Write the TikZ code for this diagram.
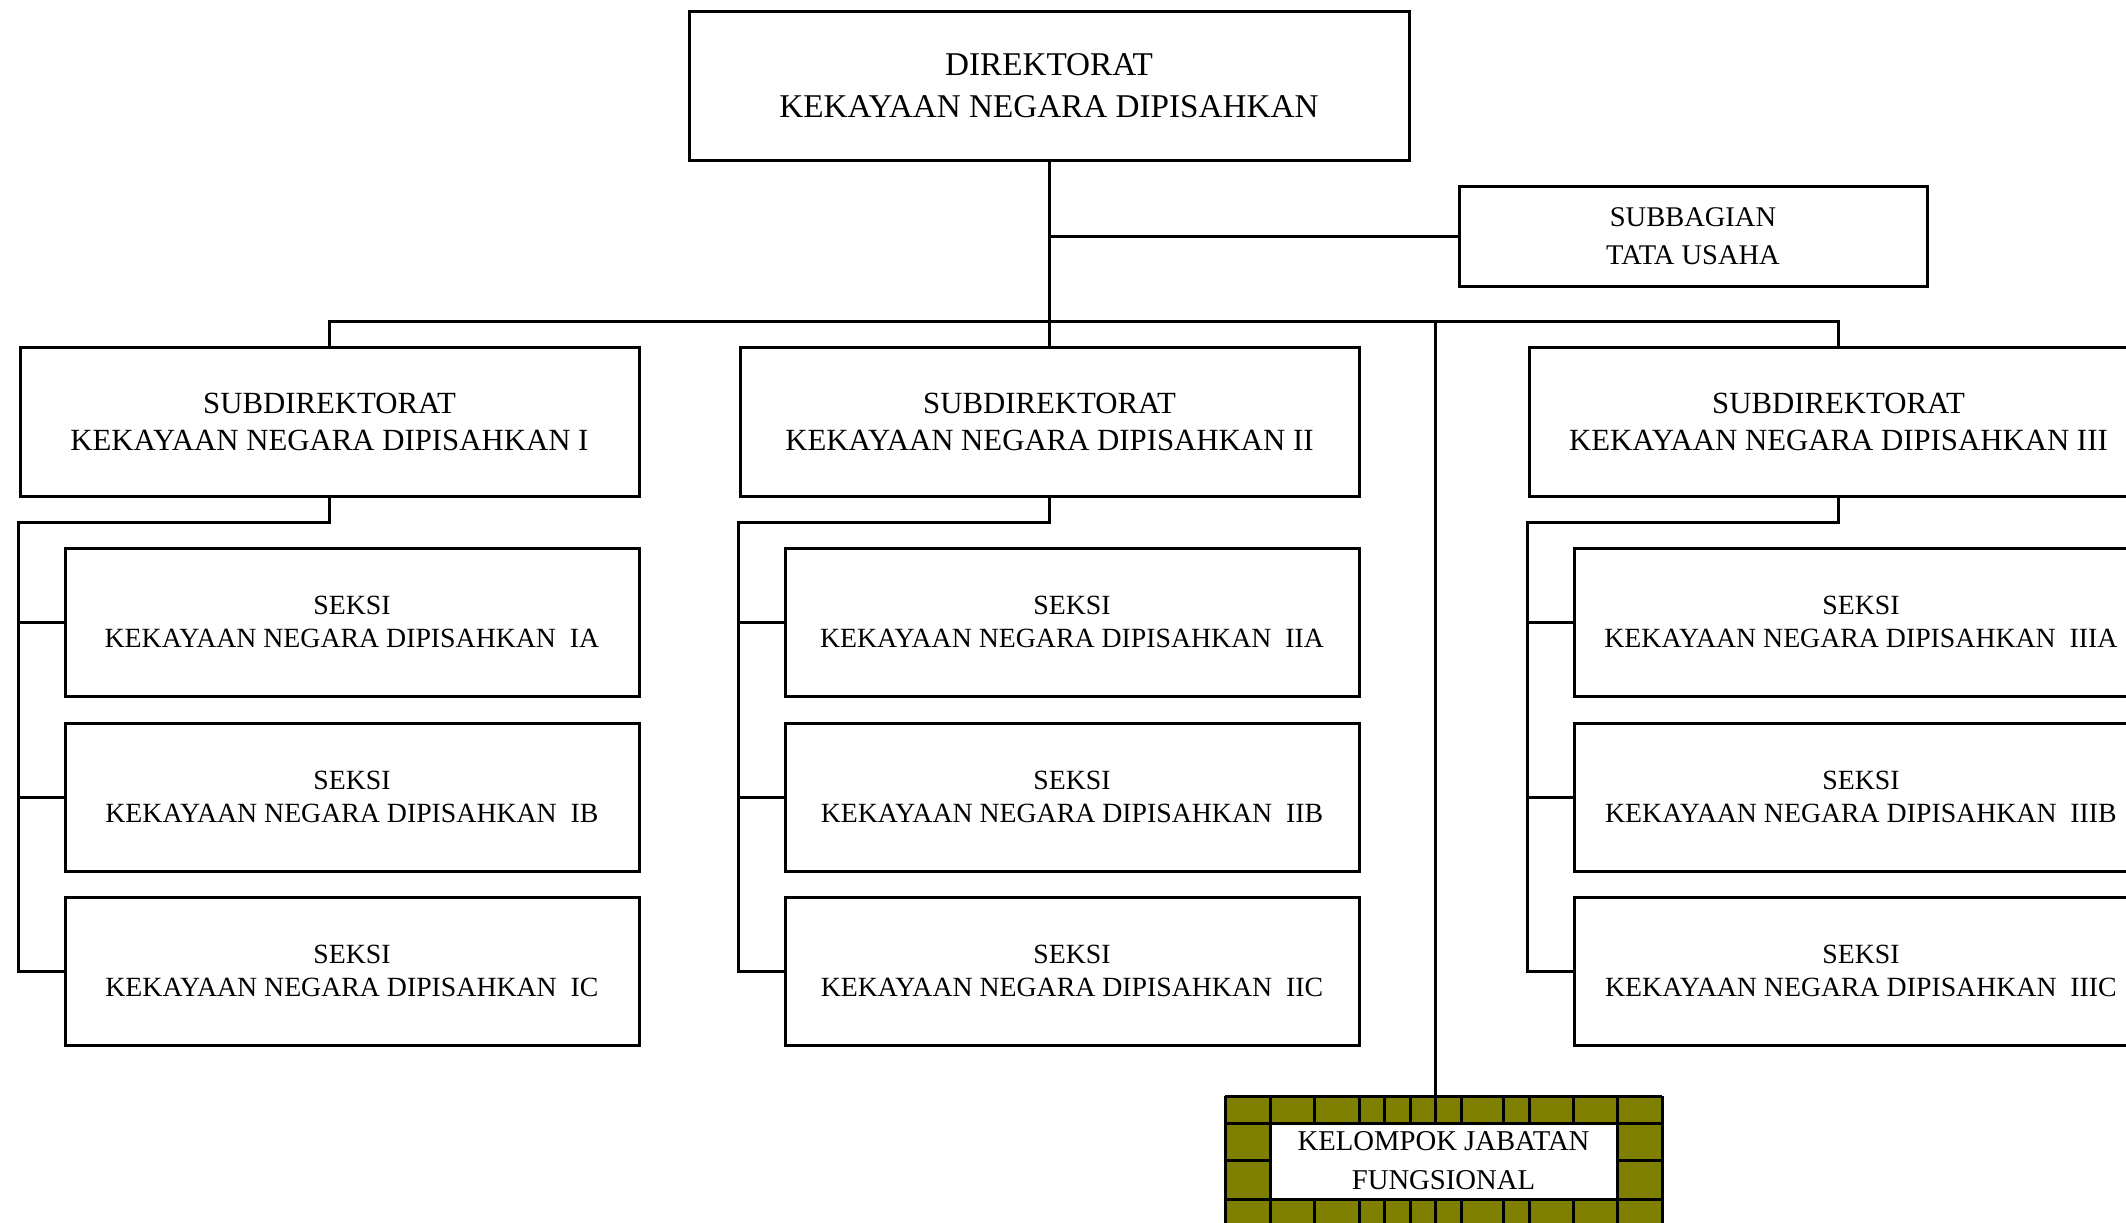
\documentclass[tikz,border=0pt]{standalone}
\usepackage{fontspec}
\setmainfont{Liberation Serif}
\usepackage{tikz}
\usetikzlibrary{positioning,calc}
\definecolor{olv}{HTML}{808000}
\tikzset{
  box/.style={draw=black,line width=3pt,inner sep=0pt,align=center,fill=white},
  dbox/.style={box,minimum width=720pt,minimum height=148pt,font=\fontsize{33.2}{42}\selectfont},
  tbox/.style={box,minimum width=468pt,minimum height=100pt,font=\fontsize{28.5}{38}\selectfont},
  sdbox/.style={box,minimum width=619pt,minimum height=149pt,font=\fontsize{30.8}{37}\selectfont},
  skbox/.style={box,minimum width=574pt,minimum height=148pt,font=\fontsize{27.8}{33}\selectfont},
  kbox/.style={box,minimum width=347pt,minimum height=76pt,font=\fontsize{28.7}{39}\selectfont},
  link/.style={draw=black,line width=3pt},
}

\begin{document}
\begin{tikzpicture}[x=1pt,y=-1pt]
\clip (0,0) rectangle (2126,1223);
\node[dbox] (dir) at (1049,86) {DIREKTORAT\\KEKAYAAN NEGARA DIPISAHKAN};
\node[tbox] (tu) at (1693,236) {SUBBAGIAN\\TATA USAHA};
\coordinate (bus) at (0,321);
\foreach \c/\x/\n in {1/329.5/I,2/1049.5/II,3/1838.5/III}{
  \node[sdbox] (sd\c) at (\x,421.5) {SUBDIREKTORAT\\KEKAYAAN NEGARA DIPISAHKAN \n};
  \foreach \r/\y/\R in {a/622/A,b/797/B,c/971/C}
    \node[skbox] (sk\c\r) at ($(\x,\y)+(22.5,0)$) {SEKSI\\KEKAYAAN NEGARA DIPISAHKAN\ \ \n\R};
}
\fill[olv] (1225,1096) rectangle (1662,1240);
\foreach \gx in {1225,1270,1314,1359,1384,1410,1435,1461,1503,1529,1573,1617,1662}
  \draw[link] (\gx,1096) -- (\gx,1240);
\foreach \gy in {1096,1123,1160,1199}
  \draw[link] (1225,\gy) -- (1662,\gy);
\node[kbox] (kjf) at (1443.5,1161) {KELOMPOK JABATAN\\FUNGSIONAL};
\coordinate (kjtop) at (1435,1096);

\draw[link] (dir.south) -- (dir.south |- bus);
\draw[link] (dir.south |- tu.west) -- (tu.west);
\draw[link] (sd1.north) |- (sd3.north |- bus) -- (sd3.north);
\draw[link] (sd2.north) -- (sd2.north |- bus);
\draw[link] (kjtop |- bus) -- (kjtop);
\foreach \c in {1,2,3}{
  \coordinate (t\c) at ($(sd\c.south)+(0,25)$);
  \draw[link] (sd\c.south) -- (t\c) -| (sd\c.west |- sk\c c.west) -- (sk\c c.west);
  \draw[link] (sd\c.west |- sk\c a.west) -- (sk\c a.west);
  \draw[link] (sd\c.west |- sk\c b.west) -- (sk\c b.west);
}
\end{tikzpicture}
\end{document}
